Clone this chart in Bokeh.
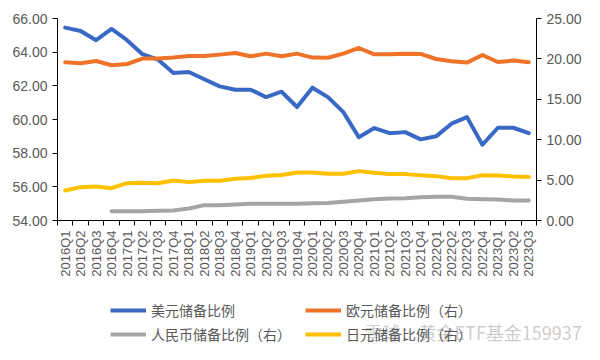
from math import pi
from bokeh.plotting import figure
from bokeh.layouts import column, row
from bokeh.models import (Range1d, LinearAxis, FixedTicker, Legend, LegendItem,
                          NumeralTickFormatter, Label, ColumnDataSource)
from bokeh.embed import file_html
from bokeh.resources import INLINE

quarters = ["2016Q1", "2016Q2", "2016Q3", "2016Q4", "2017Q1", "2017Q2", "2017Q3", "2017Q4",
            "2018Q1", "2018Q2", "2018Q3", "2018Q4", "2019Q1", "2019Q2", "2019Q3", "2019Q4",
            "2020Q1", "2020Q2", "2020Q3", "2020Q4", "2021Q1", "2021Q2", "2021Q3", "2021Q4",
            "2022Q1", "2022Q2", "2022Q3", "2022Q4", "2023Q1", "2023Q2", "2023Q3"]

usd = [65.46, 65.26, 64.71, 65.38, 64.71, 63.88, 63.56, 62.76, 62.82, 62.39, 61.97, 61.77,
       61.77, 61.33, 61.65, 60.74, 61.89, 61.33, 60.44, 58.95, 59.49, 59.19, 59.25, 58.82,
       59.00, 59.75, 60.14, 58.50, 59.51, 59.51, 59.19]
eur = [19.58, 19.45, 19.74, 19.21, 19.37, 20.04, 20.04, 20.16, 20.36, 20.36, 20.53, 20.73,
       20.32, 20.65, 20.32, 20.65, 20.16, 20.14, 20.65, 21.35, 20.57, 20.57, 20.65, 20.61,
       19.99, 19.70, 19.54, 20.48, 19.62, 19.79, 19.58]
nan = float("nan")
cny = [nan, nan, nan, 1.15, 1.15, 1.15, 1.20, 1.24, 1.49, 1.90, 1.90, 1.98,
       2.07, 2.07, 2.07, 2.07, 2.14, 2.18, 2.32, 2.48, 2.64, 2.73, 2.76, 2.89,
       2.94, 2.94, 2.69, 2.64, 2.60, 2.48, 2.48]
jpy = [3.72, 4.13, 4.21, 4.00, 4.62, 4.67, 4.62, 4.96, 4.75, 4.92, 4.92, 5.17,
       5.25, 5.54, 5.62, 5.95, 5.95, 5.80, 5.79, 6.11, 5.91, 5.74, 5.74, 5.61,
       5.49, 5.24, 5.24, 5.61, 5.58, 5.45, 5.37]

names = ["美元储备比例", "欧元储备比例（右）", "人民币储备比例（右）", "日元储备比例（右）"]
colors = ["#3A69C5", "#EE7328", "#A5A5A5", "#FFC000"]
watermark = "雪球：黄金ETF基金159937"

xs = [i + 0.5 for i in range(len(quarters))]
src = ColumnDataSource(dict(x=xs, usd=usd, eur=eur, cny=cny, jpy=jpy))

TXT = "#595959"
FONT = "Liberation Sans"
CJK = "Noto Sans CJK SC"
W = 584

p = figure(width=W, height=280, output_backend="svg", toolbar_location=None,
           x_range=Range1d(0, len(quarters)), y_range=Range1d(54, 66),
           min_border_left=57, min_border_right=41, min_border_top=18, min_border_bottom=60)
p.extra_y_ranges = {"right": Range1d(0, 25)}
p.outline_line_color = None
p.xgrid.visible = False
p.ygrid.visible = False

# x axis
xa = p.xaxis[0]
xa.ticker = FixedTicker(ticks=xs, minor_ticks=list(range(len(quarters) + 1)))
xa.major_label_overrides = {x: q for x, q in zip(xs, quarters)}
xa.major_tick_line_color = None
xa.minor_tick_line_color = "black"
xa.minor_tick_in = 0
xa.minor_tick_out = 5
xa.major_label_orientation = pi / 2
xa.major_label_text_font = FONT
xa.major_label_text_font_size = "13px"
xa.major_label_text_color = TXT
xa.major_label_standoff = 4
xa.axis_line_color = "black"

# left axis
ya = p.yaxis[0]
ya.ticker = FixedTicker(ticks=[54, 56, 58, 60, 62, 64, 66])
ya.formatter = NumeralTickFormatter(format="0.00")
ya.minor_tick_line_color = None
ya.major_tick_in = 0
ya.major_tick_out = 5
ya.major_tick_line_color = "black"
ya.axis_line_color = "black"
ya.major_label_text_font = FONT
ya.major_label_text_font_size = "14px"
ya.major_label_text_color = TXT
ya.major_label_standoff = 5

# right axis
ra = LinearAxis(y_range_name="right", ticker=FixedTicker(ticks=[0, 5, 10, 15, 20, 25]),
                formatter=NumeralTickFormatter(format="0.00"))
ra.minor_tick_line_color = None
ra.major_tick_in = 0
ra.major_tick_out = 5
ra.major_tick_line_color = "black"
ra.axis_line_color = "black"
ra.major_label_text_font = FONT
ra.major_label_text_font_size = "14px"
ra.major_label_text_color = TXT
ra.major_label_standoff = 5
p.add_layout(ra, "right")

kw = dict(line_width=4, line_join="round", line_cap="round")
p.line("x", "usd", source=src, color=colors[0], **kw)
p.line("x", "eur", source=src, color=colors[1], y_range_name="right", **kw)
p.line("x", "cny", source=src, color=colors[2], y_range_name="right", **kw)
p.line("x", "jpy", source=src, color=colors[3], y_range_name="right", **kw)

# legend strip below the chart (its own view shows none of the data)
q = figure(width=W, height=64, output_backend="svg", toolbar_location=None,
           x_range=Range1d(0, 1), y_range=Range1d(0, 1), min_border=0,
           x_axis_location=None, y_axis_location=None)
q.outline_line_color = None
q.grid.visible = False
lk = dict(line_width=4)
l_usd = q.line("x", "usd", source=src, color=colors[0], **lk)
l_eur = q.line("x", "eur", source=src, color=colors[1], **lk)
l_cny = q.line("x", "cny", source=src, color=colors[2], **lk)
l_jpy = q.line("x", "jpy", source=src, color=colors[3], **lk)

# column-first fill: usd, cny in column 1; eur, jpy in column 2
legend = Legend(items=[LegendItem(label=names[0], renderers=[l_usd]),
                       LegendItem(label=names[2], renderers=[l_cny]),
                       LegendItem(label=names[1], renderers=[l_eur]),
                       LegendItem(label=names[3], renderers=[l_jpy])],
                ncols=2, location=(110, 0))
legend.label_text_font = CJK
legend.label_text_font_size = "14px"
legend.label_text_color = TXT
legend.glyph_width = 36
legend.glyph_height = 16
legend.label_standoff = 5
legend.label_width = 150
legend.spacing = 4
legend.padding = 0
legend.margin = 0
legend.border_line_color = None
legend.background_fill_alpha = 0
q.add_layout(legend)

wm = Label(x=364, y=0, x_units="screen", y_units="screen", text=watermark,
           text_font=CJK, text_font_size="18px", text_color="#c4c4c4", text_alpha=0.85)
q.add_layout(wm)

open("out.html", "w").write(file_html(column(p, row(q), spacing=0), INLINE))
